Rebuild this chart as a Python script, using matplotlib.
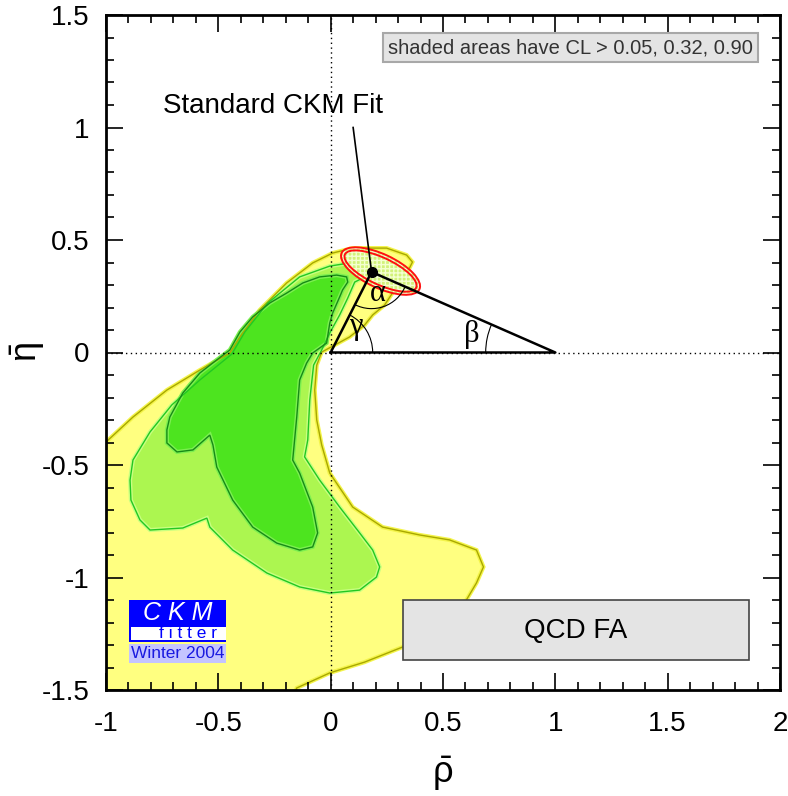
import matplotlib
matplotlib.use("Agg")
import matplotlib.pyplot as plt
from matplotlib.patches import Polygon, Ellipse, Rectangle, Arc
from matplotlib.ticker import MultipleLocator

plt.rcParams["font.family"] = ["Liberation Sans", "DejaVu Sans"]
plt.rcParams["mathtext.fontset"] = "custom"
plt.rcParams["mathtext.rm"] = "Liberation Sans"
plt.rcParams["axes.unicode_minus"] = False

# tick positions / labels
xticks = [-1, -0.5, 0, 0.5, 1, 1.5, 2]
xtick_labels = ["-1", "-0.5", "0", "0.5", "1", "1.5", "2"]
yticks = [-1.5, -1, -0.5, 0, 0.5, 1, 1.5]
ytick_labels = ["-1.5", "-1", "-0.5", "0", "0.5", "1", "1.5"]

# CL > 0.05 region (yellow)
yellow_x = [-1.05, -1.0, -0.88, -0.729, -0.582, -0.449, -0.404, -0.316, -0.196, -0.08,
            0.009, 0.098, 0.249, 0.338, 0.364, 0.351, 0.307, 0.284, 0.24, 0.187, 0.151,
            0.084, 0.018, -0.04, -0.062, -0.071, -0.062, -0.04, -0.004, 0.098, 0.231,
            0.396, 0.529, 0.649, 0.68, 0.649, 0.604, 0.484, 0.32, 0.151, -0.004, -0.151,
            -0.18, -1.05]
yellow_y = [-0.398, -0.398, -0.287, -0.167, -0.078, -0.002, 0.069, 0.189, 0.309, 0.398,
            0.442, 0.464, 0.464, 0.433, 0.402, 0.376, 0.344, 0.278, 0.211, 0.167, 0.122,
            0.069, 0.033, 0.002, -0.056, -0.167, -0.3, -0.411, -0.536, -0.687, -0.776,
            -0.811, -0.833, -0.878, -0.953, -1.024, -1.1, -1.211, -1.309, -1.376, -1.424,
            -1.491, -1.55, -1.55]

# CL > 0.32 region (light green)
lgreen_x = [-0.88, -0.804, -0.707, -0.582, -0.44, -0.382, -0.28, -0.138, -0.004, 0.084,
            0.173, 0.2, 0.107, 0.076, 0.04, -0.004, -0.04, -0.076, -0.093, -0.102,
            -0.116, -0.049, 0.04, 0.129, 0.187, 0.218, 0.204, 0.129, -0.004, -0.138,
            -0.284, -0.436, -0.538, -0.551, -0.658, -0.804, -0.849, -0.889, -0.893]
lgreen_y = [-0.478, -0.353, -0.233, -0.122, -0.007, 0.091, 0.22, 0.336, 0.384, 0.398,
            0.402, 0.36, 0.313, 0.242, 0.167, 0.087, 0.011, -0.056, -0.211, -0.389,
            -0.464, -0.567, -0.687, -0.802, -0.878, -0.953, -0.998, -1.056, -1.069,
            -1.042, -0.98, -0.878, -0.776, -0.736, -0.78, -0.789, -0.744, -0.656, -0.567]

# CL > 0.90 region (dark green)
dgreen_x = [-0.729, -0.729, -0.716, -0.658, -0.582, -0.507, -0.449, -0.404, -0.347,
            -0.271, -0.196, -0.124, -0.049, 0.027, 0.071, 0.076, 0.053, 0.04, 0.009,
            -0.004, -0.018, -0.08, -0.107, -0.138, -0.151, -0.169, -0.138, -0.08,
            -0.058, -0.08, -0.138, -0.24, -0.347, -0.436, -0.507, -0.524, -0.538,
            -0.613, -0.684]
dgreen_y = [-0.402, -0.344, -0.287, -0.18, -0.091, -0.033, 0.011, 0.091, 0.158, 0.22,
            0.264, 0.309, 0.336, 0.344, 0.336, 0.313, 0.278, 0.247, 0.176, 0.131, 0.042,
            -0.002, -0.047, -0.122, -0.287, -0.478, -0.536, -0.687, -0.802, -0.864,
            -0.878, -0.847, -0.776, -0.656, -0.509, -0.411, -0.367, -0.433, -0.442]

# standard CKM fit: apex and confidence ellipses
apex = (0.182, 0.358)
fit_center = (0.222, 0.362)
fit_widths = [0.382, 0.35]
fit_heights = [0.15, 0.12]
fit_angle = -25

fig = plt.figure(figsize=(7.88, 7.96), dpi=100)
ax = fig.add_axes([106 / 788, 106 / 796, 674 / 788, 675 / 796])
ax.set_xlim(-1, 2)
ax.set_ylim(-1.5, 1.5)

regions = [
    (yellow_x, yellow_y, "#ffff80", "#f4f44a", "#a8a800"),
    (lgreen_x, lgreen_y, "#acf650", "#c8ff80", "#22c822"),
    (dgreen_x, dgreen_y, "#4de41f", "#7cf050", "#178a17"),
]
for xs, ys, fc, halo, ec in regions:
    pts = list(zip(xs, ys))
    ax.add_patch(Polygon(pts, closed=True, facecolor=fc, edgecolor=halo, lw=3.0, zorder=1))
    ax.add_patch(Polygon(pts, closed=True, facecolor="none", edgecolor=ec, lw=1.0, zorder=1.5))

# fit ellipse
ax.add_patch(Ellipse(fit_center, fit_widths[0], fit_heights[0], angle=fit_angle,
                     facecolor="#d2f27a", edgecolor="none", zorder=2))
ax.add_patch(Ellipse(fit_center, fit_widths[0], fit_heights[0], angle=fit_angle,
                     facecolor="none", edgecolor="#f4ffd0", hatch="++++", lw=0, zorder=2.1))
for w, h in zip(fit_widths, fit_heights):
    ax.add_patch(Ellipse(fit_center, w, h, angle=fit_angle, facecolor="none",
                         edgecolor="#ff1010", lw=1.4, zorder=2.2))

# dotted axes lines
ax.axhline(0, color="black", ls=(0, (1, 2.5)), lw=1.0, zorder=3)
ax.axvline(0, color="black", ls=(0, (1, 2.5)), lw=1.0, zorder=3)

# unitarity triangle
ax.plot([0, 1, apex[0], 0], [0, 0, apex[1], 0], color="black", lw=1.8, zorder=4)
ax.plot([apex[0]], [apex[1]], "o", color="black", ms=7, zorder=5)
ax.plot([apex[0], 0.1], [apex[1], 1.0], color="black", lw=1.2, zorder=4)

ax.add_patch(Arc((0, 0), 0.374, 0.374, theta1=0, theta2=63, color="black", lw=0.8, zorder=4))
ax.add_patch(Arc((1, 0), 0.62, 0.62, theta1=156.4, theta2=180, color="black", lw=0.8, zorder=4))
ax.add_patch(Arc(apex, 0.326, 0.326, theta1=-117, theta2=-23.6, color="black", lw=0.8, zorder=4))

greek = dict(family=["Liberation Serif", "DejaVu Serif"], fontsize=22, ha="center",
             va="center", zorder=6)
ax.text(0.11, 0.115, "γ", **greek)
ax.text(0.627, 0.08, "β", **greek)
ax.text(0.212, 0.262, "α", **greek)

ax.text(-0.258, 1.096, "Standard CKM Fit", fontsize=20, ha="center", va="center", zorder=6)

# CL legend box
ax.text(1.069, 1.354, "shaded areas have CL > 0.05, 0.32, 0.90", fontsize=14.5,
        color="#333333", ha="center", va="center", zorder=7,
        bbox=dict(boxstyle="square,pad=0.25", facecolor="#e4e4e4", edgecolor="#a8a8a8", lw=1.5))

# QCD FA box
ax.add_patch(Rectangle((0.32, -1.367), 1.542, 0.267, facecolor="#e4e4e4",
                       edgecolor="#444444", lw=1.2, zorder=7))
ax.text(1.091, -1.236, "QCD FA", fontsize=20, ha="center", va="center", zorder=8)

# CKMfitter logo
ax.add_patch(Rectangle((-0.898, -1.287), 0.431, 0.187, facecolor="#0000ff",
                       edgecolor="none", zorder=7))
ax.add_patch(Rectangle((-0.889, -1.278), 0.422, 0.058, facecolor="white",
                       edgecolor="none", zorder=7.5))
ax.add_patch(Rectangle((-0.898, -1.38), 0.431, 0.084, facecolor="#c4c4ff",
                       edgecolor="none", zorder=7))
ax.text(-0.68, -1.16, "C K M", fontsize=18, style="italic", color="white",
        ha="center", va="center", zorder=8)
ax.text(-0.635, -1.251, "f i t t e r", fontsize=12.5, color="#0000ff",
        ha="center", va="center", zorder=8)
ax.text(-0.682, -1.338, "Winter 2004", fontsize=12.5, color="#1a1ae0",
        ha="center", va="center", zorder=8)

# axes styling
ax.set_xticks(xticks)
ax.set_xticklabels(xtick_labels)
ax.set_yticks(yticks)
ax.set_yticklabels(ytick_labels)
ax.xaxis.set_minor_locator(MultipleLocator(0.1))
ax.yaxis.set_minor_locator(MultipleLocator(0.1))
ax.tick_params(which="both", direction="in", top=True, right=True, labelsize=20)
ax.tick_params(which="major", length=12, width=1.2)
ax.tick_params(axis="x", which="major", pad=15)
ax.tick_params(axis="y", which="major", pad=12)
ax.tick_params(which="minor", length=6, width=1.2)
for sp in ax.spines.values():
    sp.set_linewidth(2)
    sp.set_zorder(10)

ax.set_xlabel(r"$\mathrm{\bar{\rho}}$", fontsize=26)
ax.set_ylabel(r"$\mathrm{\bar{\eta}}$", fontsize=26)
ax.xaxis.set_label_coords(0.5, -0.095, transform=ax.transAxes)
ax.yaxis.set_label_coords(-0.088, 0.5, transform=ax.transAxes)

fig.savefig("out.png", dpi=100)
